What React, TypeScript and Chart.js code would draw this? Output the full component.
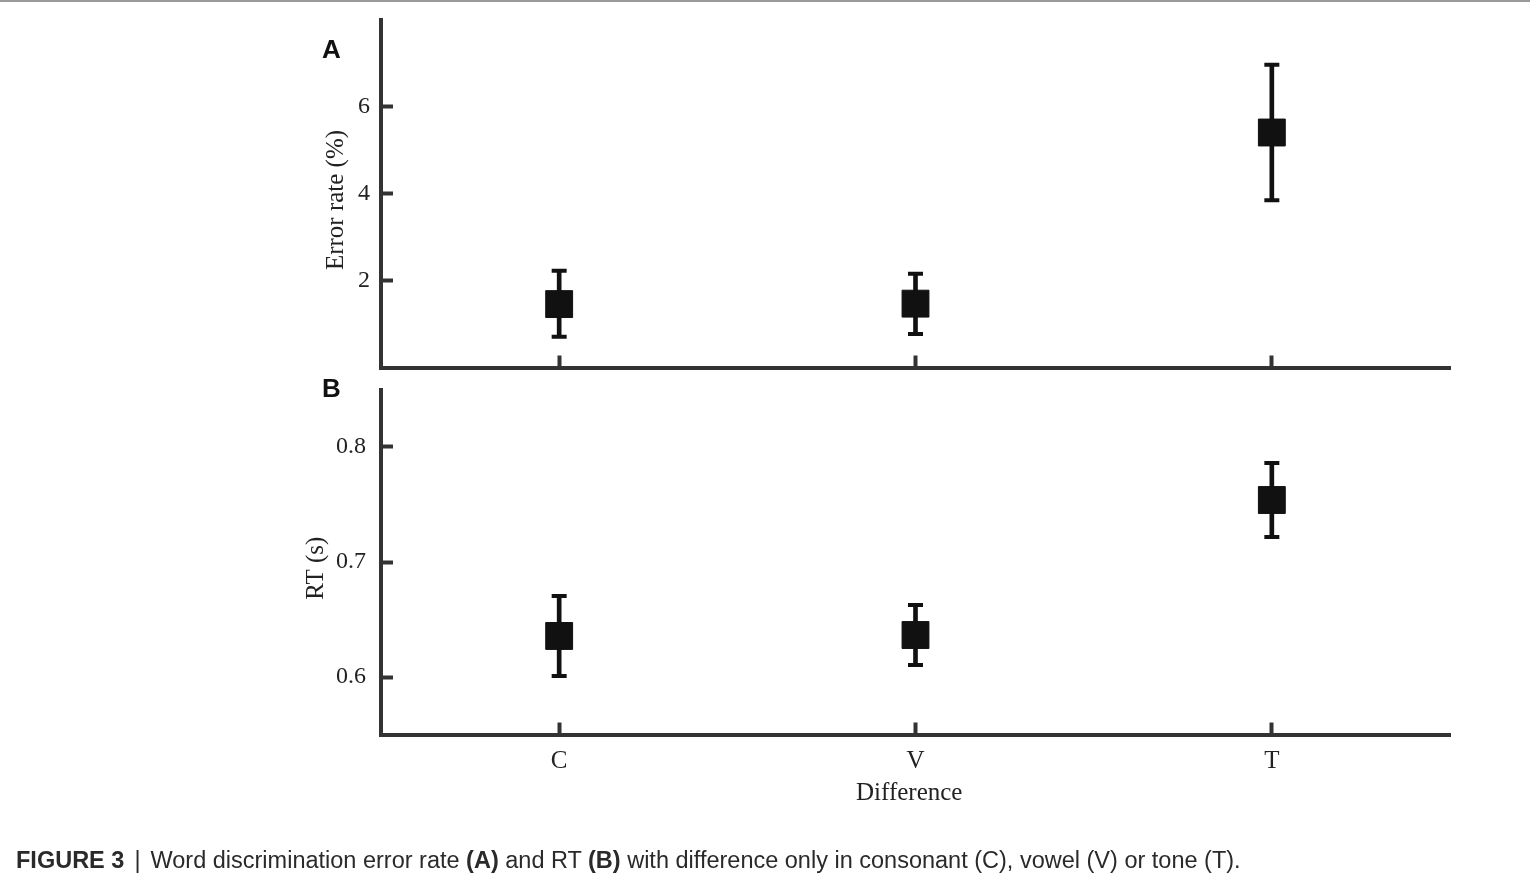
import React, { useEffect, useRef } from "react";
import { Chart, registerables } from "chart.js";

Chart.register(...registerables);

const categories = ["C", "V", "T"];

const errMean = [1.46, 1.47, 5.41];
const errLow = [0.71, 0.77, 3.85];
const errHigh = [2.23, 2.16, 6.97];
const errTicks = [2, 4, 6];

const rtMean = [0.6357, 0.6365, 0.7539];
const rtLow = [0.6009, 0.6104, 0.7217];
const rtHigh = [0.6704, 0.6626, 0.786];
const rtTicks = [0.6, 0.7, 0.8];

const W = 1530;
const H = 881;
const AXIS = "#333333";
const MARK = "#111111";
const SERIF = "'Liberation Serif', 'Times New Roman', serif";

type PanelCfg = {
  top: number;
  bottom: number;
  min: number;
  max: number;
  ticks: number[];
  mean: number[];
  low: number[];
  high: number[];
  yTitle: string;
  yTitlePad: number;
  yTickPad: number;
  decimals: number;
  showX: boolean;
};

function buildChart(canvas: HTMLCanvasElement, p: PanelCfg) {
  return new Chart(canvas, {
    type: "bar",
    data: {
      labels: categories,
      datasets: [
        {
          type: "line",
          data: p.mean,
          showLine: false,
          pointStyle: "rect",
          pointRadius: 19,
          pointHoverRadius: 19,
          pointBackgroundColor: MARK,
          pointBorderColor: MARK,
          pointBorderWidth: 1,
          order: 0,
        } as any,
        {
          type: "line",
          data: p.high,
          showLine: false,
          pointStyle: "line",
          pointRadius: 7.5,
          pointHoverRadius: 7.5,
          pointBorderColor: MARK,
          pointBorderWidth: 4,
          order: 1,
        } as any,
        {
          type: "line",
          data: p.low,
          showLine: false,
          pointStyle: "line",
          pointRadius: 7.5,
          pointHoverRadius: 7.5,
          pointBorderColor: MARK,
          pointBorderWidth: 4,
          order: 1,
        } as any,
        {
          type: "bar",
          data: p.low.map((l, i) => [l, p.high[i]]),
          backgroundColor: MARK,
          borderWidth: 0,
          barThickness: 4,
          order: 2,
        } as any,
      ],
    },
    options: {
      responsive: false,
      animation: false,
      events: [],
      layout: {
        padding: { top: p.top, right: W - 1450, bottom: 0, left: 0 },
      },
      plugins: {
        legend: { display: false },
        tooltip: { enabled: false },
      },
      scales: {
        x: {
          type: "category",
          offset: true,
          afterFit: (s: any) => {
            s.height = H - p.bottom;
            s.paddingLeft = 0;
            s.paddingRight = 0;
          },
          grid: {
            offset: false,
            drawOnChartArea: false,
            drawTicks: true,
            tickLength: -12,
            tickWidth: 4,
            tickColor: AXIS,
          },
          border: { display: true, width: 4, color: AXIS },
          ticks: {
            display: p.showX,
            padding: 23.5,
            color: "#222",
            font: { family: SERIF, size: 25 },
            maxRotation: 0,
          },
          title: {
            display: p.showX,
            text: "Difference  ",
            color: "#222",
            font: { family: SERIF, size: 25 },
            padding: { top: 0, bottom: 73 },
          },
        },
        y: {
          type: "linear",
          min: p.min,
          max: p.max,
          afterFit: (s: any) => {
            s.width = 381;
            s.paddingTop = 0;
            s.paddingBottom = 0;
          },
          afterBuildTicks: (s: any) => {
            s.ticks = p.ticks.map((v) => ({ value: v }));
          },
          grid: {
            drawOnChartArea: false,
            drawTicks: true,
            tickLength: -12,
            tickWidth: 4,
            tickColor: AXIS,
          },
          border: { display: true, width: 4, color: AXIS },
          ticks: {
            padding: p.yTickPad,
            color: "#222",
            font: { family: SERIF, size: 24 },
            callback: (v: any) => Number(v).toFixed(p.decimals),
          },
          title: {
            display: true,
            text: p.yTitle,
            color: "#222",
            font: { family: SERIF, size: 25 },
            padding: { top: p.yTitlePad, bottom: 0 },
          },
        },
      },
    },
  });
}

export default function App() {
  const refA = useRef<HTMLCanvasElement | null>(null);
  const refB = useRef<HTMLCanvasElement | null>(null);

  useEffect(() => {
    const a = buildChart(refA.current!, {
      top: 20,
      bottom: 367.5,
      min: 0,
      max: 8,
      ticks: errTicks,
      mean: errMean,
      low: errLow,
      high: errHigh,
      yTitle: "Error rate (%)  ",
      yTitlePad: 321.7,
      yTickPad: 23,
      decimals: 0,
      showX: false,
    });
    const b = buildChart(refB.current!, {
      top: 389.5,
      bottom: 734.5,
      min: 0.55,
      max: 0.85,
      ticks: rtTicks,
      mean: rtMean,
      low: rtLow,
      high: rtHigh,
      yTitle: "RT (s)  ",
      yTitlePad: 301.7,
      yTickPad: 27,
      decimals: 1,
      showX: true,
    });
    return () => {
      a.destroy();
      b.destroy();
    };
  }, []);

  const canvasStyle: React.CSSProperties = {
    position: "absolute",
    left: 0,
    top: 0,
    width: W,
    height: H,
  };
  const panelLabel: React.CSSProperties = {
    position: "absolute",
    fontFamily: "'Liberation Sans', Arial, sans-serif",
    fontWeight: "bold",
    fontSize: 26,
    lineHeight: 1,
    color: "#111",
  };

  return (
    <div
      style={{
        position: "absolute",
        left: 0,
        top: 0,
        width: W,
        height: H,
        overflow: "hidden",
        background: "#fff",
      }}
    >
      <div
        style={{
          position: "absolute",
          left: 0,
          top: 0,
          width: W,
          height: 2,
          background: "#9a9a9a",
        }}
      />
      <canvas ref={refA} width={W} height={H} style={canvasStyle} />
      <canvas ref={refB} width={W} height={H} style={canvasStyle} />
      <div style={{ ...panelLabel, left: 322, top: 36 }}>A</div>
      <div style={{ ...panelLabel, left: 322, top: 374.6 }}>B</div>
      <div
        style={{
          position: "absolute",
          left: 16,
          top: 849,
          whiteSpace: "nowrap",
          fontFamily: "'Liberation Sans', Arial, sans-serif",
          fontSize: 23.5,
          lineHeight: 1,
          color: "#2a2a2a",
        }}
      >
        <b>FIGURE 3</b>
        <span style={{ margin: "0 10px", fontWeight: 300 }}>|</span>
        Word discrimination error rate <b>(A)</b> and RT <b>(B)</b> with
        difference only in consonant (C), vowel (V) or tone (T).
      </div>
    </div>
  );
}
